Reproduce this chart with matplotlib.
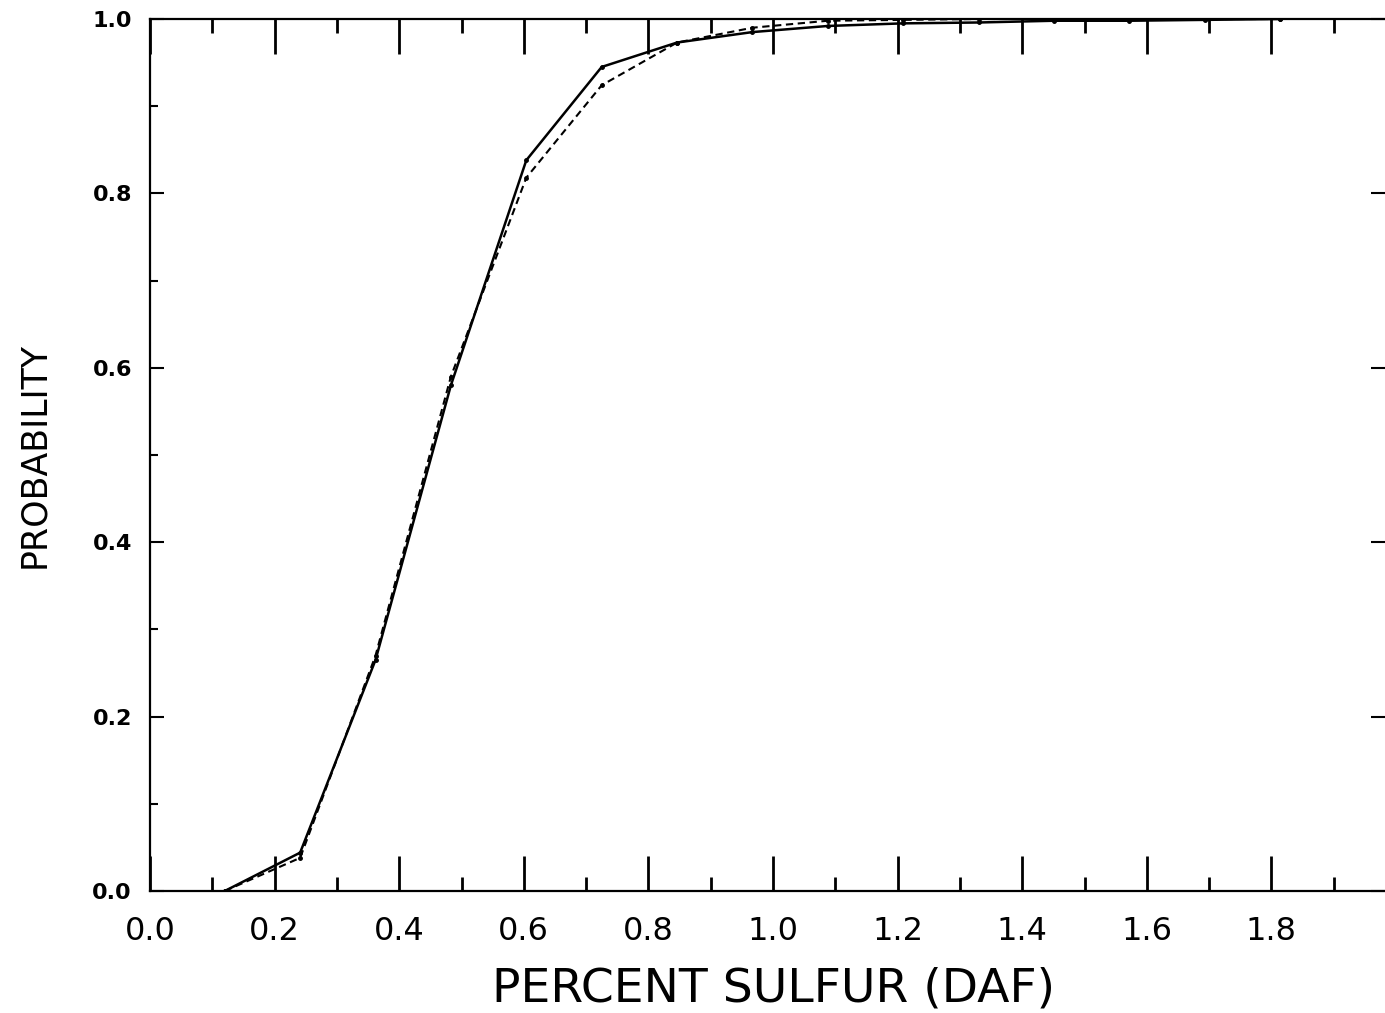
import numpy as np
import matplotlib
matplotlib.use("Agg")
import matplotlib.pyplot as plt

# sulfur content (% daf) and cumulative probability
sulfur = [0.12, 0.241, 0.362, 0.483, 0.604, 0.725, 0.846, 0.967,
          1.088, 1.209, 1.33, 1.451, 1.572, 1.693, 1.814]
prob_solid = [0.0, 0.044, 0.265, 0.58, 0.838, 0.945, 0.973, 0.985,
              0.992, 0.995, 0.996, 0.998, 0.998, 0.999, 1.0]
prob_dashed = [0.0, 0.038, 0.27, 0.59, 0.818, 0.924, 0.973, 0.99,
               0.998, 0.999, 1.0, 1.0, 1.0, 1.0, 1.0]

x_major = [0.0, 0.2, 0.4, 0.6, 0.8, 1.0, 1.2, 1.4, 1.6, 1.8]
x_labels = ["0.0", "0.2", "0.4", "0.6", "0.8", "1.0", "1.2", "1.4", "1.6", "1.8"]
y_major = [0.0, 0.2, 0.4, 0.6, 0.8, 1.0]
y_labels = ["0.0", "0.2", "0.4", "0.6", "0.8", "1.0"]

plt.rcParams['font.family'] = ['DejaVu Sans']

fig = plt.figure(figsize=(13.85, 10.13), dpi=100)
W, H = 1385, 1013
ax = fig.add_axes([150 / W, (H - 891) / H, (1396 - 150) / W, (891 - 19) / H])

ax.plot(sulfur, prob_solid, color='black', lw=1.8, marker='o', ms=2.5)
ax.plot(sulfur, prob_dashed, color='black', lw=1.5, ls=(0, (3.5, 2.2)),
        marker='o', ms=2.5)

ax.set_xlim(0, 2.0)
ax.set_ylim(0, 1.0)

ax.set_xticks(x_major)
ax.set_xticklabels(x_labels, fontsize=23)
ax.set_xticks(np.arange(0.1, 2.0, 0.2), minor=True)
ax.set_yticks(y_major)
ax.set_yticklabels(y_labels, fontsize=16, fontweight='bold')
ax.set_yticks(np.arange(0.1, 1.0, 0.2), minor=True)

ax.tick_params(axis='x', which='major', direction='in', length=25, width=2,
               top=True, pad=18)
ax.tick_params(axis='x', which='minor', direction='in', length=10, width=2,
               top=True)
ax.tick_params(axis='y', which='major', direction='in', length=10, width=1.5,
               right=False, pad=13)
ax.tick_params(axis='y', which='minor', direction='in', length=6, width=1.5,
               right=False)

for s in ax.spines.values():
    s.set_linewidth(1.6)

# right-hand ticks are longer than the left ones
ax2 = ax.twinx()
ax2.set_ylim(0, 1.0)
ax2.set_yticks(y_major)
ax2.set_yticklabels([])
ax2.tick_params(axis='y', direction='in', length=18, width=1.5)
for s in ax2.spines.values():
    s.set_visible(False)

ax.set_xlabel("PERCENT SULFUR (DAF)", fontsize=34, labelpad=14)
ax.set_ylabel("PROBABILITY", fontsize=25, labelpad=30)

fig.savefig("out.png", dpi=100)
